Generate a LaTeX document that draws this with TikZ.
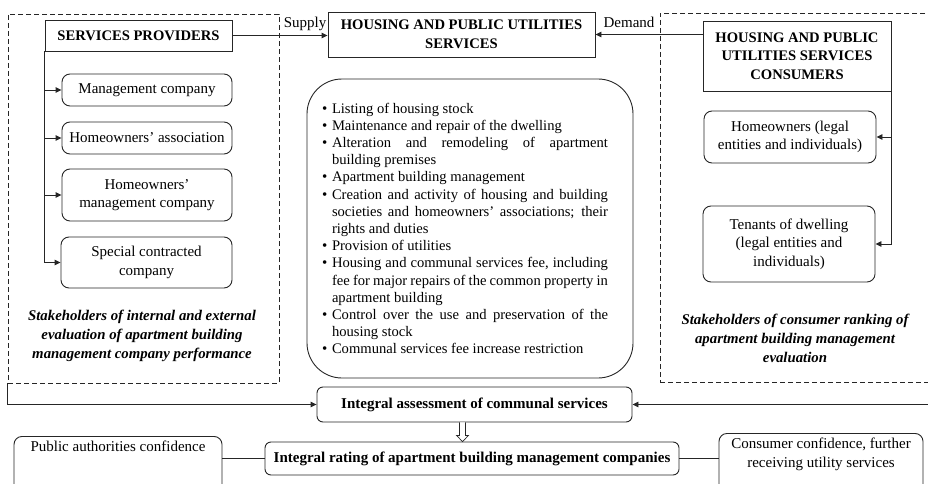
\documentclass[tikz,border=0pt]{standalone}
\usepackage{fontspec}
\setmainfont{Liberation Serif}
\usetikzlibrary{arrows.meta,calc}

% one bullet point with a hanging indent
\newcommand\bulletitem[1]{\par\hangindent=9pt\hangafter=1\noindent
  \makebox[9pt][l]{\hspace*{-1pt}\raisebox{0pt}{\fontsize{15}{15}\selectfont\textbullet}}#1}

\tikzset{
  line/.style={draw=black!85, line width=0.9pt},
  titlebox/.style={line, rectangle, fill=white, inner sep=0pt, align=center,
    font=\bfseries\fontsize{14.6}{18.5}\selectfont},
  itembox/.style={line, rounded corners=8pt, fill=white, inner sep=0pt, align=center,
    font=\fontsize{15}{18.5}\selectfont},
  boldround/.style={itembox, rounded corners=6pt, font=\bfseries\fontsize{15}{18}\selectfont},
  group/.style={draw=black!85, line width=0.9pt, dash pattern=on 5pt off 3pt, inner sep=0pt},
  caption/.style={align=center, inner sep=0pt, font=\bfseries\itshape\fontsize{14.8}{19}\selectfont},
  flowlabel/.style={inner sep=0pt, font=\fontsize{15}{17}\selectfont},
  arr/.style={line, -{Triangle[length=6pt,width=5.5pt]}},
}

\begin{document}
\begin{tikzpicture}[x=1pt, y=-1pt]
\useasboundingbox (0,0) rectangle (928,484);
\clip (0,0) rectangle (928,484);

% stakeholder groups
\node[group, minimum width=271pt, minimum height=369pt] (leftgroup) at (143.5,198.5) {};
\node[group, minimum width=280pt, minimum height=369pt] (rightgroup) at (800,197.5) {};

% providers
\node[titlebox, minimum width=187pt, minimum height=31pt] (prov) at (138.5,35.5) {SERVICES PROVIDERS};
\node[itembox, minimum width=170pt, minimum height=32pt] (mc) at (147,90) {Management company};
\node[itembox, minimum width=170pt, minimum height=32pt] (ha) at (147,138) {Homeowners’ association};
\node[itembox, minimum width=170pt, minimum height=52pt] (hmc) at (147,195) {Homeowners’\\management company};
\node[itembox, minimum width=171pt, minimum height=51pt] (scc) at (146.5,262.5) {Special contracted\\company};
\node[caption] (leftcap) at (142,336) {Stakeholders of internal and external\\evaluation of apartment building\\management company performance};

% services
\node[titlebox, minimum width=267pt, minimum height=45pt] (hpus) at (461.5,34.5) {HOUSING AND PUBLIC UTILITIES\\SERVICES};

% consumers
\node[titlebox, minimum width=188pt, minimum height=70pt] (cons) at (797,56) {HOUSING AND PUBLIC\\UTILITIES SERVICES\\CONSUMERS};
\node[itembox, minimum width=172pt, minimum height=52pt] (ho) at (790,137) {Homeowners (legal\\entities and individuals)};
\node[itembox, minimum width=172pt, minimum height=76pt] (ten) at (789,244) {Tenants of dwelling\\(legal entities and\\individuals)};
\node[caption] (rightcap) at (795,338) {Stakeholders of consumer ranking of\\apartment building management\\evaluation};

% list of services
\node[line, rounded corners=35pt, minimum width=326pt, minimum height=299pt, inner sep=0pt] (duties) at (470,228.5) {%
  \begin{minipage}{294pt}
  \fontsize{14.6}{17.2}\selectfont\parindent=0pt\rightskip=9pt
  \bulletitem{Listing of housing stock}
  \bulletitem{Maintenance and repair of the dwelling}
  \bulletitem{Alteration and remodeling of apartment\linebreak building premises}
  \bulletitem{Apartment building management}
  \bulletitem{Creation and activity of housing and building\linebreak societies and homeowners’ associations; their\linebreak rights and duties}
  \bulletitem{Provision of utilities}
  \bulletitem{Housing and communal services fee, including\linebreak fee for major repairs of the common property in\linebreak apartment building}
  \bulletitem{Control over the use and preservation of the\linebreak housing stock}
  \bulletitem{Communal services fee increase restriction}\par
  \end{minipage}};

% assessment and rating
\node[boldround, minimum width=315pt, minimum height=35pt] (assess) at (474.5,404.5) {Integral assessment of communal services};
\node[boldround, minimum width=414pt, minimum height=33pt] (rating) at (472,458.5) {Integral rating of apartment building management companies};
\node[itembox, anchor=north] (pub) at (118,436) {\parbox[t][64pt][t]{208pt}{\centering\vspace*{4pt}Public authorities confidence}};
\node[itembox, anchor=north, font=\fontsize{15}{19}\selectfont] (cc) at (821,433) {\parbox[t][67pt][t]{204pt}{\centering\vspace*{4pt}Consumer confidence, further\\receiving utility services}};

% supply and demand
\draw[arr] (prov.east) -- (prov.east -| hpus.west);
\node[flowlabel, anchor=base east] (supply) at ($(hpus.west)+(-1,-7)$) {Supply};
\draw[arr] (cons.west |- hpus.east) -- (hpus.east);
\node[flowlabel, anchor=base west] (demand) at ($(hpus.east)+(8,-7)$) {Demand};

% provider branches
\foreach \t in {mc,ha,hmc,scc}
  \draw[arr] (prov.south west) |- (\t.west);

% consumer branches
\foreach \t in {ho,ten}
  \draw[arr] (cons.south east) |- (\t.east);

% groups into the assessment
\draw[arr] (leftgroup.south west) |- (assess.west);
\draw[arr] (rightgroup.south east) |- (assess.east);

% assessment leads to rating (hollow arrow)
\coordinate (hs) at ($(assess.south)+(-12,0)$);
\coordinate (he) at (hs |- rating.north);
\draw[line, line width=0.7pt, fill=white]
  ($(hs)+(-3,0)$) -- ($(hs)+(-3,13)$) -- ($(hs)+(-6,13)$) -- (he)
  -- ($(hs)+(6,13)$) -- ($(hs)+(3,13)$) -- ($(hs)+(3,0)$);

% confidence links
\draw[line] (rating.west) -- (rating.west -| pub.east);
\draw[line] (rating.east) -- (rating.east -| cc.west);
\end{tikzpicture}
\end{document}
